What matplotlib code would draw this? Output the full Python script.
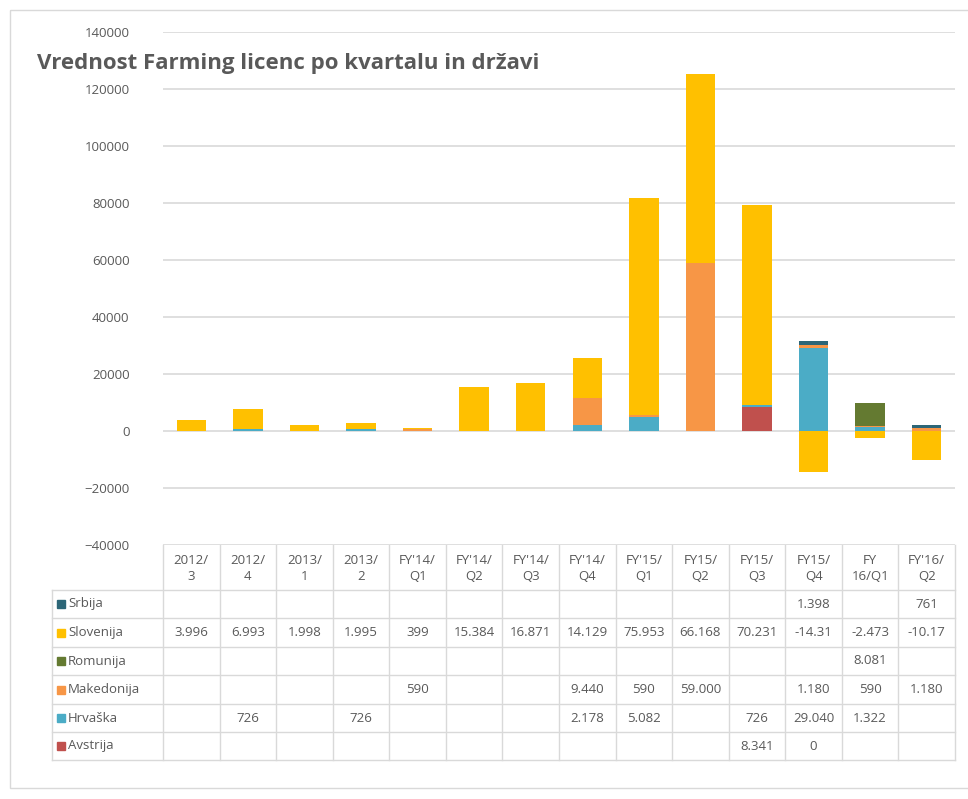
import numpy as np
import matplotlib
matplotlib.use("Agg")
import matplotlib.pyplot as plt
from matplotlib.patches import Rectangle

plt.rcParams['font.family'] = ['Open Sans', 'DejaVu Sans']

# data
quarters = ['2012/\n3', '2012/\n4', '2013/\n1', '2013/\n2', "FY'14/\nQ1", "FY'14/\nQ2",
            "FY'14/\nQ3", "FY'14/\nQ4", "FY'15/\nQ1", 'FY15/\nQ2', 'FY15/\nQ3',
            'FY15/\nQ4', 'FY\n16/Q1', "FY'16/\nQ2"]
avstrija = [None, None, None, None, None, None, None, None, None, None, 8341, 0, None, None]
hrvaska = [None, 726, None, 726, None, None, None, 2178, 5082, None, 726, 29040, 1322, None]
makedonija = [None, None, None, None, 590, None, None, 9440, 590, 59000, None, 1180, 590, 1180]
romunija = [None, None, None, None, None, None, None, None, None, None, None, None, 8081, None]
slovenija = [3996, 6993, 1998, 1995, 399, 15384, 16871, 14129, 75953, 66168, 70231, -14310, -2473, -10170]
srbija = [None, None, None, None, None, None, None, None, None, None, None, 1398, None, 761]

# stacking order bottom -> top
series = [('Avstrija', avstrija, '#C0504D'),
          ('Hrvaška', hrvaska, '#4BACC6'),
          ('Makedonija', makedonija, '#F79646'),
          ('Romunija', romunija, '#647A31'),
          ('Slovenija', slovenija, '#FFC000'),
          ('Srbija', srbija, '#2C6677')]

W, H = 968, 799
fig = plt.figure(figsize=(W / 100, H / 100), dpi=100)

# outer chart border
bg = fig.add_axes([0, 0, 1, 1])
bg.set_xlim(0, W)
bg.set_ylim(H, 0)
bg.axis('off')
bg.add_patch(Rectangle((10, 10), 980, 778, fill=False, ec='#d9d9d9', lw=1))

ax = fig.add_axes([163 / W, 1 - 545 / H, (955 - 163) / W, (545 - 32) / H])
x = np.arange(len(quarters))
pos = np.zeros(len(quarters))
neg = np.zeros(len(quarters))
for name, vals, col in series:
    v = np.array([0 if a is None else a for a in vals], dtype=float)
    bottom = np.where(v >= 0, pos, neg)
    ax.bar(x, v, 0.52, bottom=bottom, color=col, zorder=3)
    pos = pos + np.where(v > 0, v, 0)
    neg = neg + np.where(v < 0, v, 0)

ax.set_xlim(-0.5, len(quarters) - 0.5)
ax.set_ylim(-40000, 140000)
ax.set_yticks(np.arange(-40000, 140001, 20000))
ax.yaxis.grid(True, color='#d9d9d9', lw=1.2, zorder=0)
ax.set_xticks([])
for s in ax.spines.values():
    s.set_visible(False)
ax.tick_params(axis='y', length=0, pad=24, labelsize=9.5, labelcolor='#595959')

fig.text(37 / W, 1 - 63 / H, 'Vrednost Farming licenc po kvartalu in državi',
         fontsize=16, fontweight='bold', color='#595959', va='center')

# data table
x0, x1 = 163, 955
cw = (x1 - x0) / len(quarters)
y_head = 545
y_rows = [590, 618, 647, 675, 704, 732, 760]
lc = '#d9d9d9'
for i in range(len(quarters) + 1):
    bg.plot([x0 + i * cw] * 2, [y_head, y_rows[-1]], color=lc, lw=1)
bg.plot([52, 52], [y_rows[0], y_rows[-1]], color=lc, lw=1)
for yy in y_rows:
    bg.plot([52, x1], [yy, yy], color=lc, lw=1)
for i, q in enumerate(quarters):
    bg.text(x0 + (i + 0.5) * cw, (y_head + y_rows[0]) / 2 + 1, q, ha='center', va='center',
            fontsize=9.5, color='#595959', linespacing=1.2)


def fmt(v):
    s = f'{v:,.0f}'.replace(',', '.')
    return s[:6]


for r, (name, vals, col) in enumerate(reversed(series)):
    yc = (y_rows[r] + y_rows[r + 1]) / 2
    bg.add_patch(Rectangle((57, yc - 4), 8, 8, color=col))
    bg.text(68, yc, name, va='center', fontsize=9.5, color='#595959')
    for i, v in enumerate(vals):
        if v is not None:
            bg.text(x0 + (i + 0.5) * cw, yc, fmt(v), ha='center', va='center',
                    fontsize=9.5, color='#595959')

fig.savefig('out.png', dpi=100)
